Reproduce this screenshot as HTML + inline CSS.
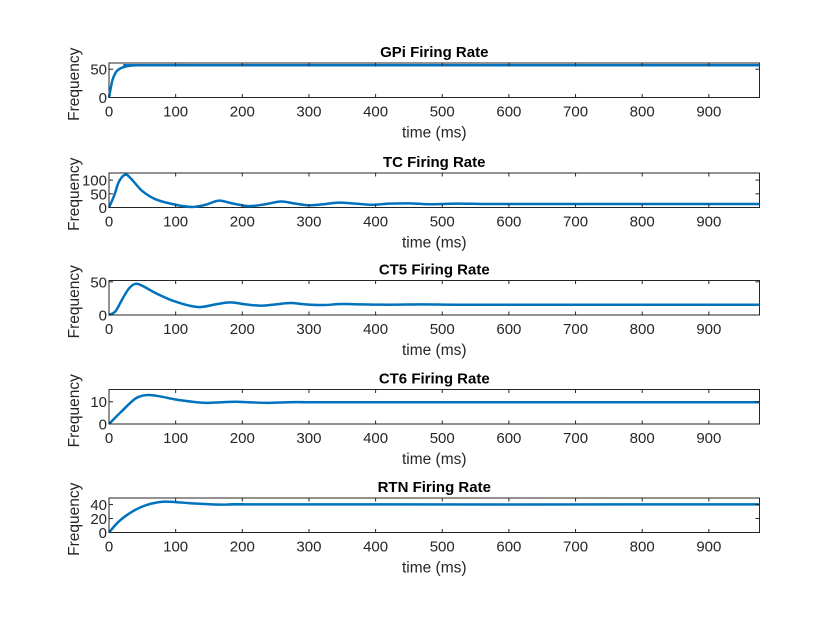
<!DOCTYPE html>
<html><head><meta charset="utf-8">
<style>
body{margin:0;background:#fff;}
svg{display:block;font-family:"Liberation Sans",Arial,sans-serif;}
</style></head>
<body>
<svg id="chart" width="840" height="630"></svg>
<script>
const xTicks=[0,100,200,300,400,500,600,700,800,900];
const titles=["GPi Firing Rate","TC Firing Rate","CT5 Firing Rate","CT6 Firing Rate","RTN Firing Rate"];
const yMax=[61,126,52,15.5,49.4];
const yTicks=[[0,50],[0,50,100],[0,50],[0,10],[0,20,40]];
const gpiT=[0,5,10,15,20,30,40,60,100,976];
const gpiV=[0,30,44,50,53,56,57,57,57,57];
const tcT=[0,8,15,25,35,50,70,100,125,145,165,185,210,235,258,280,300,322,345,370,395,420,450,480,520,560,600,700,800,976];
const tcV=[0,45,95,120,100,60,30,10,2,10,25,15,5,12,22,14,8,12,18,14,10,14,15,12,14,13,13,13,13,13];
const ct5T=[0,10,20,30,40,52,70,100,133,160,182,205,228,250,272,295,320,350,380,420,470,520,600,976];
const ct5V=[0,6,24,40,47,43,33,20,12,16,19,16,14,16,18,16,15,16.5,16,15.5,16,15.5,15.5,15.5];
const ct6T=[0,20,40,57,75,100,125,145,170,190,215,240,270,300,350,976];
const ct6V=[0,6,11.5,13,12.5,11,10,9.5,9.8,10,9.7,9.5,9.8,9.8,9.8,9.8];
const rtnT=[0,15,35,55,80,100,120,140,160,180,200,250,976];
const rtnV=[0,16,30,39,44,43.5,42,41,40,40,40.5,40.2,40.2];
const seriesT=[gpiT,tcT,ct5T,ct6T,rtnT];
const seriesV=[gpiV,tcV,ct5V,ct6V,rtnV];

const NS="http://www.w3.org/2000/svg";
const svg=document.getElementById('chart');
const X0=109,X1=759.5,XMAX=976;
const tops=[63,173,280.5,389.5,498];
const H=34.5;
function mk(tag,attrs,parent){const e=document.createElementNS(NS,tag);for(const k in attrs)e.setAttribute(k,attrs[k]);(parent||svg).appendChild(e);return e;}
function sx(t){return X0+(t/XMAX)*(X1-X0);}
function smooth(pts){
  let d="M"+pts[0][0].toFixed(2)+","+pts[0][1].toFixed(2);
  for(let i=0;i<pts.length-1;i++){
    const p0=pts[Math.max(0,i-1)],p1=pts[i],p2=pts[i+1],p3=pts[Math.min(pts.length-1,i+2)];
    const c1=[p1[0]+(p2[0]-p0[0])/6,p1[1]+(p2[1]-p0[1])/6];
    const c2=[p2[0]-(p3[0]-p1[0])/6,p2[1]-(p3[1]-p1[1])/6];
    d+=" C"+c1[0].toFixed(2)+","+c1[1].toFixed(2)+" "+c2[0].toFixed(2)+","+c2[1].toFixed(2)+" "+p2[0].toFixed(2)+","+p2[1].toFixed(2);
  }
  return d;
}
for(let p=0;p<5;p++){
  const top=tops[p],bot=top+H;
  const sy=v=>bot-(v/yMax[p])*H;
  const g=mk('g',{});
  
  
  const r=mk('rect',{x:X0,y:top,width:X1-X0,height:H,fill:'#fff',stroke:'#262626','stroke-width':1},g);
  
  
  const path=mk('path',{d:smooth(seriesT[p].map((t,i)=>[sx(t),sy(seriesV[p][i])])),fill:'none',stroke:'#0072BD','stroke-width':2.5,'stroke-linejoin':'round'},g);
  
  
  xTicks.forEach(t=>{
    const x=sx(t);
    mk('line',{x1:x,x2:x,y1:bot,y2:bot-3.5,stroke:'#262626'},g);
    mk('line',{x1:x,x2:x,y1:top,y2:top+3.5,stroke:'#262626'},g);
    const tx=mk('text',{x:x,y:bot+19,'text-anchor':'middle','font-size':15,fill:'#262626'},g);
    tx.textContent=t;
    
    
  });
  yTicks[p].forEach(v=>{
    const y=sy(v);
    mk('line',{x1:X0,x2:X0+4,y1:y,y2:y,stroke:'#262626'},g);
    mk('line',{x1:X1,x2:X1-4,y1:y,y2:y,stroke:'#262626'},g);
    const tx=mk('text',{x:X0-2,y:y+5.5,'text-anchor':'end','font-size':15,fill:'#262626'},g);
    tx.textContent=v;
    
    
  });
  const tt=mk('text',{x:(X0+X1)/2,y:top-6,'text-anchor':'middle','font-size':15,'font-weight':'bold',fill:'#000'},g);
  tt.textContent=titles[p];
  
  
  const xl=mk('text',{x:(X0+X1)/2,y:bot+40,'text-anchor':'middle','font-size':15.5,fill:'#262626'},g);
  xl.textContent='time (ms)';
  
  
  const yl=mk('text',{x:0,y:0,'text-anchor':'middle','font-size':15.5,fill:'#262626',transform:'translate(79,'+(top+H/2+4)+') rotate(-90)'},g);
  yl.textContent='Frequency';
  
  
}
</script>
</body></html>
